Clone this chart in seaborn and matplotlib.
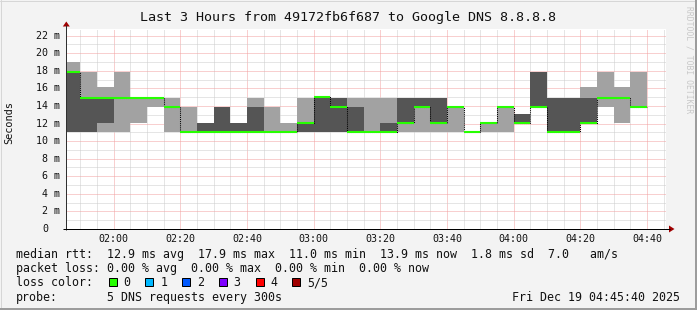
import matplotlib
matplotlib.use("Agg")
import matplotlib.pyplot as plt
import matplotlib.dates as mdates
from matplotlib.patches import Rectangle, Polygon
import numpy as np
import pandas as pd
import seaborn as sns

# ---------------- data (ms) ----------------
bin_starts = pd.date_range("2025-12-19 01:45", periods=35, freq="5min")
x_start = pd.Timestamp("2025-12-19 01:45:40")
x_end = pd.Timestamp("2025-12-19 04:45:40")

ping1 = [11.0, 11.0, 11.0, 11.0, 12.1, 13.9, 11.0, 11.0, 11.0, 11.0, 11.0, 11.0,
         11.0, 11.0, 11.0, 11.0, 11.0, 11.0, 11.0, 11.0, 11.0, 11.0, 11.0, 11.0,
         11.0, 11.0, 11.0, 12.1, 13.9, 11.0, 11.0, 12.1, 13.9, 12.1, 13.9]
ping2 = [11.0, 11.0, 12.1, 14.9, 14.9, 14.9, 13.9, 11.0, 11.0, 11.0, 11.0, 11.0,
         11.0, 11.0, 11.0, 11.0, 11.0, 11.0, 11.0, 11.0, 12.1, 13.9, 12.1, 13.9,
         11.0, 12.1, 13.9, 12.1, 13.9, 11.0, 11.0, 12.1, 14.9, 14.9, 13.9]
median = [17.9, 14.9, 14.9, 14.9, 14.9, 14.9, 13.9, 11.0, 11.0, 11.0, 11.0, 11.0,
          11.0, 11.0, 12.1, 15.0, 13.9, 11.0, 11.0, 11.0, 12.1, 13.9, 12.1, 13.9,
          11.0, 12.1, 13.9, 12.1, 13.9, 11.0, 11.0, 12.1, 14.9, 14.9, 13.9]
ping4 = [17.9, 14.9, 14.9, 14.9, 14.9, 14.9, 13.9, 11.0, 12.1, 13.9, 12.1, 13.9,
         11.0, 11.0, 12.1, 15.0, 14.9, 13.9, 11.0, 12.1, 14.9, 14.9, 14.9, 13.9,
         11.0, 12.1, 13.9, 13.1, 17.9, 14.9, 14.9, 14.9, 14.9, 14.9, 13.9]
ping5 = [19.0, 17.9, 16.1, 17.9, 14.9, 14.9, 14.9, 13.9, 12.1, 13.9, 12.1, 14.9,
         13.9, 12.1, 14.9, 15.0, 14.9, 14.9, 14.9, 14.9, 14.9, 14.9, 14.9, 13.9,
         11.0, 12.1, 13.9, 13.1, 17.9, 14.9, 14.9, 16.1, 17.9, 16.1, 17.9]

y_ticks = [0, 2, 4, 6, 8, 10, 12, 14, 16, 18, 20, 22]
y_tick_labels = ["0", "2 m", "4 m", "6 m", "8 m", "10 m", "12 m", "14 m",
                 "16 m", "18 m", "20 m", "22 m"]

title = "Last 3 Hours from 49172fb6f687 to Google DNS 8.8.8.8"
line_rtt = "median rtt:  12.9 ms avg  17.9 ms max  11.0 ms min  13.9 ms now  1.8 ms sd  7.0   am/s"
line_loss = "packet loss: 0.00 % avg  0.00 % max  0.00 % min  0.00 % now"
loss_labels = ["0", "1", "2", "3", "4", "5/5"]
loss_colors = ["#26ff00", "#00b8ff", "#0059ff", "#7e00ff", "#ff0000", "#a00000"]
probe_text = "5 DNS requests every 300s"
stamp = "Fri Dec 19 04:45:40 2025"

# ---------------- style ----------------
sns.set_style("white")
plt.rcParams["font.family"] = ["DejaVu Sans Mono"]
MONO = "DejaVu Sans Mono"

W, H = 697, 310
fig = plt.figure(figsize=(W / 100, H / 100), dpi=100, facecolor="#f3f3f3")
ax = fig.add_axes([66 / W, (H - 229) / H, 600 / W, 200 / H])
ax.set_facecolor("white")

edges = bin_starts.append(pd.DatetimeIndex([bin_starts[-1] + pd.Timedelta("5min")]))
ex = mdates.date2num(edges.to_pydatetime())
def ext(a):
    return np.append(np.asarray(a, float), a[-1])

ax.fill_between(ex, ext(ping1), ext(ping5), step="post", color="#a2a2a2", lw=0, zorder=2)
ax.fill_between(ex, ext(ping2), ext(ping4), step="post", color="#555555", lw=0, zorder=3)

df = pd.DataFrame({"t": ex, "median": ext(median)})
sns.lineplot(data=df, x="t", y="median", drawstyle="steps-post", color="black",
             lw=0.75, linestyle=(0, (1, 1)), ax=ax, zorder=4, legend=False)
ax.hlines(median, ex[:-1], ex[1:], colors="#26ff00", lw=1.5, zorder=5)

ax.set_xlim(mdates.date2num(x_start.to_pydatetime()), mdates.date2num(x_end.to_pydatetime()))
ax.set_ylim(0, 200 / 8.79)
ax.set_xlabel("")
ax.set_ylabel("")

ax.xaxis.set_major_locator(mdates.MinuteLocator(byminute=[0, 20, 40]))
ax.xaxis.set_minor_locator(mdates.MinuteLocator(byminute=range(0, 60, 5)))
ax.xaxis.set_major_formatter(mdates.DateFormatter("%H:%M"))
ax.set_yticks(y_ticks)
ax.set_yticks(np.arange(1, 23, 2), minor=True)
ax.set_yticklabels([])

ax.set_axisbelow(True)
ax.grid(True, which="major", color="#f2a0a0", lw=0.72, ls=(0, (1, 1)))
ax.grid(True, which="minor", color="#cdcdcd", lw=0.72, ls=(0, (1, 1)))
for s in ax.spines.values():
    s.set_visible(False)
ax.tick_params(axis="both", which="both", direction="out", length=2.2, width=0.72,
               color="#808080")
ax.tick_params(axis="x", which="major", labelsize=7.2, pad=1.6, labelcolor="#111111")
for lab in ax.get_xticklabels():
    lab.set_fontfamily(MONO)

ytrans = ax.get_yaxis_transform()
for v, lab in zip(y_ticks, y_tick_labels):
    xr = -6 / 600 if lab != "0" else -(6 + 2 * 6.02) / 600
    ax.text(xr, v, lab, transform=ytrans, ha="right", va="center", fontsize=7.2,
            family=MONO, color="#111111")

# ---------------- overlay in pixel coords ----------------
ov = fig.add_axes([0, 0, 1, 1], zorder=10)
ov.set_xlim(0, W)
ov.set_ylim(H, 0)
ov.axis("off")
ov.patch.set_alpha(0)

ov.plot([66, 66], [229.5, 25], color="#303030", lw=0.72, solid_capstyle="butt")
ov.plot([63, 670], [229, 229], color="#000000", lw=0.72, solid_capstyle="butt")
ov.add_patch(Polygon([[62.8, 26.5], [69.8, 26.5], [66.3, 21.5]], closed=True,
                     color="#a00000", lw=0))
ov.add_patch(Polygon([[669, 225.5], [669, 232.5], [674.5, 229]], closed=True,
                     color="#a00000", lw=0))

# frame
ov.plot([0, W], [0.5, 0.5], color="#d6d6d6", lw=0.72)
ov.plot([0.5, 0.5], [0, H], color="#d6d6d6", lw=0.72)
ov.plot([0, W], [309, 309], color="#9c9c9c", lw=1.44)
ov.plot([696, 696], [0, H], color="#9c9c9c", lw=1.44)

ov.text(348.5, 18, title, ha="center", va="center", fontsize=9.6, family=MONO, color="#111111")
ov.text(9.7, 123, "Seconds", ha="center", va="center", rotation=90, fontsize=7.4,
        family=MONO, color="#111111")
ov.text(689, 60, "RRDTOOL / TOBI OETIKER", ha="center", va="center", rotation=270,
        fontsize=5.8, family=MONO, color="#c8c8c8")

fs = 8.37
ov.text(16, 258, line_rtt, ha="left", va="baseline", fontsize=fs, family=MONO, color="#111111")
ov.text(16, 272.2, line_loss, ha="left", va="baseline", fontsize=fs, family=MONO, color="#111111")
ov.text(16, 286.4, "loss color:", ha="left", va="baseline", fontsize=fs, family=MONO, color="#111111")
for i, (lab, col) in enumerate(zip(loss_labels, loss_colors)):
    bx = 108.7 + i * 36.7
    ov.add_patch(Rectangle((bx, 278.3), 8, 8, facecolor=col, edgecolor="black", lw=0.72))
    ov.text(bx + 14.8, 286.4, lab, ha="left", va="baseline", fontsize=fs, family=MONO,
            color="#111111")
ov.text(16, 300.7, "probe:", ha="left", va="baseline", fontsize=fs, family=MONO, color="#111111")
ov.text(107, 300.7, probe_text, ha="left", va="baseline", fontsize=fs, family=MONO, color="#111111")
ov.text(680.5, 300.7, stamp, ha="right", va="baseline", fontsize=fs, family=MONO, color="#111111")

fig.savefig("out.png", dpi=100, facecolor=fig.get_facecolor())
